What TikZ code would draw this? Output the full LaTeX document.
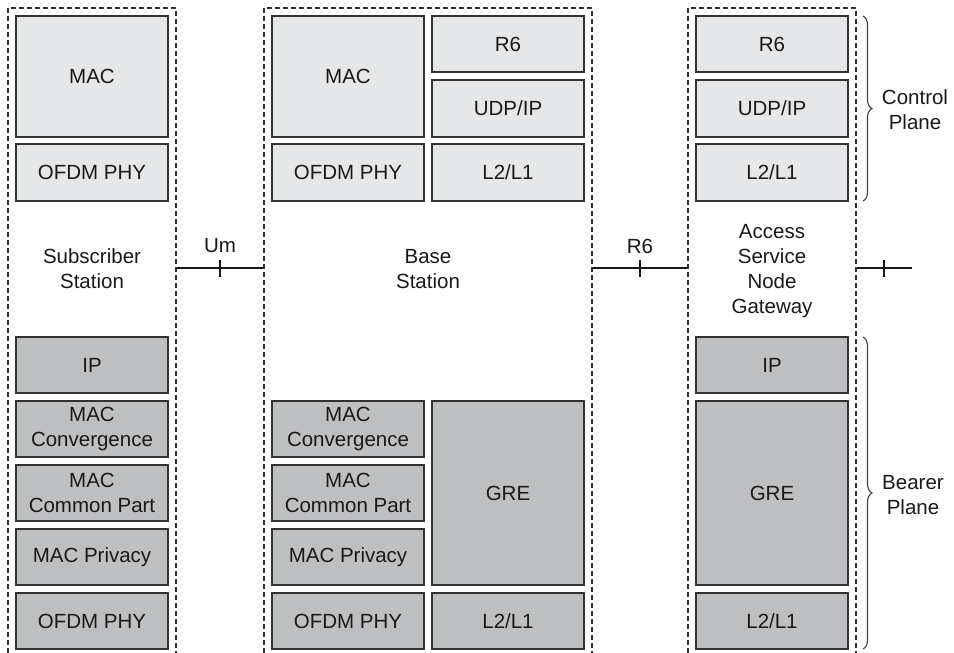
\documentclass[tikz,border=0pt]{standalone}
\usepackage{fontspec}
\setmainfont{Liberation Sans}
\usetikzlibrary{decorations.pathreplacing}
\definecolor{lightbox}{HTML}{E6E7E8}
\definecolor{darkbox}{HTML}{BEBFC1}
\definecolor{edge}{HTML}{333333}
\begin{document}
\begin{tikzpicture}[x=1pt,y=-1pt,
  lbl/.style={font=\fontsize{20.5}{25}\selectfont, align=center, text=black!90},
  blk/.style={draw=edge, line width=1.3pt, inner sep=0pt, lbl, minimum width=152pt},
  light/.style={blk, fill=lightbox},
  dark/.style={blk, fill=darkbox},
  column/.style={draw=edge, dash pattern=on 5pt off 3pt, line width=1.1pt},
  link/.style={draw=black!90, line width=1.8pt},
  tick/.style={draw=black!90, line width=1.8pt},
  planebrace/.style={draw=black!75, line width=1.1pt, decorate, decoration={brace, amplitude=9pt}}
]
\useasboundingbox (0,0) rectangle (954,653);

% dashed columns
\draw[column] (8,653) -- (8,8) -- (176,8) -- (176,653);
\draw[column] (264,653) -- (264,8) -- (592,8) -- (592,653);
\draw[column] (688,653) -- (688,8) -- (856,8) -- (856,653);

% Subscriber station
\node[light, minimum height=121pt] (ss-mac) at (92,76.5) {MAC};
\node[light, minimum height=57pt] (ss-phy) at (92,172.5) {OFDM PHY};
\node[lbl] (ss-lbl) at (92,269) {Subscriber\\Station};
\node[dark, minimum height=56pt] (ss-ip) at (92,365) {IP};
\node[dark, minimum height=56pt] (ss-conv) at (92,429) {MAC\\Convergence};
\node[dark, minimum height=56pt] (ss-cps) at (92,493) {MAC\\Common Part};
\node[dark, minimum height=56pt] (ss-priv) at (92,557) {MAC Privacy};
\node[dark, minimum height=56pt] (ss-phy2) at (92,621) {OFDM PHY};

% Base station
\node[light, minimum height=121pt] (bs-mac) at (348,76.5) {MAC};
\node[light, minimum height=56pt] (bs-r6) at (508,44) {R6};
\node[light, minimum height=57pt] (bs-udp) at (508,108.5) {UDP/IP};
\node[light, minimum height=57pt] (bs-phy) at (348,172.5) {OFDM PHY};
\node[light, minimum height=57pt] (bs-l2) at (508,172.5) {L2/L1};
\node[lbl] (bs-lbl) at (428,269) {Base\\Station};
\node[dark, minimum height=56pt] (bs-conv) at (348,429) {MAC\\Convergence};
\node[dark, minimum height=56pt] (bs-cps) at (348,493) {MAC\\Common Part};
\node[dark, minimum height=56pt] (bs-priv) at (348,557) {MAC Privacy};
\node[dark, minimum height=56pt] (bs-phy2) at (348,621) {OFDM PHY};
\node[dark, minimum height=184pt] (bs-gre) at (508,493) {GRE};
\node[dark, minimum height=56pt] (bs-l22) at (508,621) {L2/L1};

% ASN gateway
\node[light, minimum height=56pt] (gw-r6) at (772,44) {R6};
\node[light, minimum height=57pt] (gw-udp) at (772,108.5) {UDP/IP};
\node[light, minimum height=57pt] (gw-l2) at (772,172.5) {L2/L1};
\node[lbl] (gw-lbl) at (772,271) {Access\\Service\\Node\\Gateway};
\node[dark, minimum height=56pt] (gw-ip) at (772,365) {IP};
\node[dark, minimum height=184pt] (gw-gre) at (772,493) {GRE};
\node[dark, minimum height=56pt] (gw-l22) at (772,621) {L2/L1};

% interfaces
\coordinate (um-a) at (176,268);
\coordinate (um-b) at (264,268);
\coordinate (um-t1) at (220,260);
\coordinate (um-t2) at (220,277);
\draw[link] (um-a) -- (um-b);
\draw[tick] (um-t1) -- (um-t2);
\node[lbl] (um-lbl) at (220,246) {Um};

\coordinate (r6-a) at (592,268);
\coordinate (r6-b) at (688,268);
\coordinate (r6-t1) at (640,260);
\coordinate (r6-t2) at (640,277);
\draw[link] (r6-a) -- (r6-b);
\draw[tick] (r6-t1) -- (r6-t2);
\node[lbl] (r6-lbl) at (640,246) {R6};

\coordinate (ex-a) at (857,268);
\coordinate (ex-b) at (912,268);
\coordinate (ex-t1) at (884,260);
\coordinate (ex-t2) at (884,277);
\draw[link] (ex-a) -- (ex-b);
\draw[tick] (ex-t1) -- (ex-t2);

% plane braces
\coordinate (cb-top) at (863,16);
\coordinate (cb-bot) at (863,201);
\draw[planebrace] (cb-top) -- (cb-bot);
\node[lbl] (cp-lbl) at (915,110) {Control\\Plane};

\coordinate (bb-top) at (863,337);
\coordinate (bb-bot) at (863,649);
\draw[planebrace] (bb-top) -- (bb-bot);
\node[lbl] (bp-lbl) at (913,495) {Bearer\\Plane};
\end{tikzpicture}
\end{document}
